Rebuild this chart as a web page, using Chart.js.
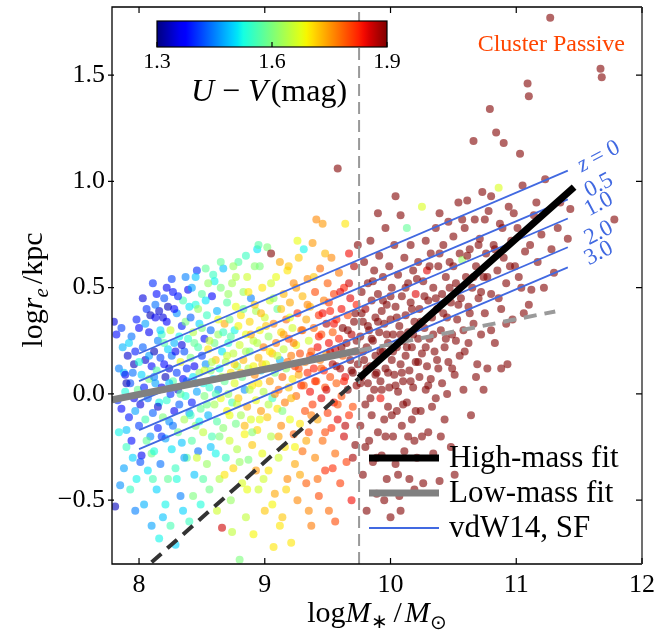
<!DOCTYPE html>
<html>
<head>
<meta charset="utf-8">
<script src="https://cdn.jsdelivr.net/npm/chart.js@4.4.1/dist/chart.umd.min.js"></script>
<style>
  html, body { margin: 0; padding: 0; background: #fff; }
  #wrap { width: 670px; height: 639px; }
</style>
</head>
<body>
<div id="wrap"><canvas id="chart" width="670" height="639"></canvas></div>
<script>
// axis ranges and ticks
const xMin = 7.785, xMax = 12;
const yMin = -0.80, yMax = 1.82;
const xTicks = [8, 9, 10, 11, 12];
const yTicks = [-0.5, 0, 0.5, 1.0, 1.5];
const colorMin = 1.3, colorMax = 1.9;
const colorTicks = [1.3, 1.6, 1.9];

// galaxies: [log M*, log re, U-V], grouped by mass
const galaxiesA = [
  [7.80,0.34,1.35],[7.81,-0.53,1.33],[7.83,-0.03,1.40],[7.84,0.12,1.45],[7.85,-0.43,1.46],[7.86,-0.07,1.37],
  [7.87,0.22,1.48],[7.88,0.10,1.49],[7.89,0.01,1.53],[7.89,0.09,1.36],[7.90,-0.17,1.49],[7.90,-0.25,1.55],
  [7.91,0.18,1.34],[7.92,-0.11,1.39],[7.93,0.05,1.42],[7.94,-0.22,1.38],[7.94,0.27,1.44],[7.95,-0.30,1.50],
  [7.96,0.14,1.33],[7.97,-0.08,1.47],[7.97,0.20,1.39],[7.98,-0.40,1.52],[7.99,0.02,1.58],[8.00,-0.15,1.41],
  [8.00,0.31,1.37],[8.01,-0.05,1.35],[8.02,-0.29,1.36],[8.02,0.09,1.50],[8.03,0.22,1.43],[8.04,-0.52,1.48],
  [8.05,-0.12,1.56],[8.05,0.16,1.34],[8.06,0.40,1.40],[8.07,-0.02,1.44],[8.07,-0.36,1.51],[8.08,0.29,1.36],
  [8.08,0.07,1.60],[8.09,-0.20,1.46],[8.10,0.13,1.38],[8.10,-0.62,1.47],
  [7.82,0.28,1.38],[7.84,-0.18,1.52],[7.86,0.31,1.41],[7.88,-0.35,1.47],[7.90,0.05,1.33],[7.92,0.24,1.50],
  [7.93,-0.45,1.55],[7.95,0.10,1.44],[7.96,-0.02,1.36],[7.98,0.35,1.39],[8.00,0.15,1.53],[8.01,-0.32,1.42],
  [8.03,0.45,1.35],[8.04,0.03,1.39],[8.06,-0.22,1.58],[8.08,0.18,1.47],[8.09,0.37,1.33],[8.05,0.33,1.47],
  [8.10,-0.28,1.59],[7.97,-0.55,1.45]
];
const galaxiesB = [
  [8.11,0.52,1.40],[8.11,-0.09,1.43],[8.12,0.20,1.33],[8.12,-0.27,1.53],[8.13,0.05,1.47],[8.13,0.36,1.36],
  [8.14,-0.45,1.50],[8.14,0.11,1.57],[8.15,-0.16,1.39],[8.15,0.25,1.45],[8.16,0.39,1.34],[8.16,-0.04,1.52],
  [8.17,0.17,1.41],[8.17,-0.33,1.44],[8.18,0.03,1.36],[8.18,0.28,1.55],[8.19,-0.58,1.49],[8.19,-0.11,1.60],
  [8.20,0.14,1.38],[8.20,0.45,1.42],[8.21,-0.21,1.47],[8.21,0.08,1.33],[8.22,0.34,1.37],[8.22,-0.03,1.54],
  [8.23,0.21,1.50],[8.23,-0.40,1.58],[8.24,0.12,1.35],[8.24,-0.13,1.46],[8.25,0.30,1.66],[8.25,0.00,1.40],
  [8.26,-0.26,1.51],[8.26,0.18,1.44],[8.27,0.48,1.38],[8.27,0.06,1.57],[8.28,-0.08,1.36],[8.28,0.24,1.48],
  [8.29,-0.71,1.50],[8.29,-0.35,1.55],[8.30,0.10,1.41],[8.30,0.38,1.46],[8.31,-0.18,1.59],[8.31,0.02,1.34],
  [8.32,0.27,1.52],[8.32,-0.05,1.43],[8.33,0.15,1.68],[8.33,-0.48,1.45],[8.34,0.32,1.39],[8.34,-0.23,1.49],
  [8.35,0.07,1.37],[8.35,0.44,1.56],[8.36,-0.12,1.63],[8.36,0.20,1.42],[8.37,-0.01,1.53],[8.37,0.55,1.45],
  [8.38,-0.30,1.58],[8.38,0.12,1.40],[8.39,0.49,1.36],[8.39,0.26,1.54],[8.40,-0.09,1.47],[8.40,-0.60,1.55],
  [8.11,-0.40,1.56],[8.12,0.08,1.45],[8.14,0.47,1.38],[8.15,-0.06,1.34],[8.17,0.30,1.50],[8.18,-0.20,1.40],
  [8.20,0.24,1.57],[8.21,-0.52,1.52],[8.23,0.41,1.33],[8.24,0.05,1.49],[8.26,0.54,1.41],[8.27,-0.15,1.44],
  [8.29,0.20,1.36],[8.30,-0.40,1.53],[8.31,0.46,1.39],[8.33,0.00,1.57],[8.34,0.23,1.35],[8.36,-0.30,1.47],
  [8.37,0.34,1.60],[8.38,0.06,1.43],[8.40,0.41,1.51],[8.22,0.50,1.36],[8.13,0.42,1.44],[8.19,0.36,1.35],
  [8.28,0.40,1.37],[8.35,-0.55,1.50],[8.16,-0.68,1.52],[8.25,-0.62,1.56]
];
const galaxiesC = [
  [8.41,0.17,1.60],[8.41,0.36,1.43],[8.42,-0.04,1.39],[8.42,-0.22,1.57],[8.43,0.08,1.51],[8.43,0.29,1.64],
  [8.44,-0.38,1.49],[8.44,0.13,1.36],[8.45,0.42,1.53],[8.45,-0.15,1.61],[8.46,0.58,1.40],[8.46,0.01,1.47],
  [8.47,0.22,1.56],[8.47,-0.27,1.44],[8.48,0.10,1.62],[8.48,0.33,1.50],[8.49,-0.07,1.58],[8.49,-0.52,1.53],
  [8.50,0.18,1.41],[8.50,0.47,1.57],[8.51,-0.18,1.65],[8.51,0.05,1.52],[8.52,0.26,1.38],[8.52,-0.01,1.60],
  [8.53,0.59,1.58],[8.53,0.14,1.46],[8.54,-0.33,1.62],[8.54,0.37,1.55],[8.55,-0.10,1.48],[8.55,0.21,1.70],
  [8.56,0.03,1.54],[8.56,-0.45,1.59],[8.57,0.30,1.44],[8.57,0.11,1.61],[8.58,0.46,1.37],[8.58,-0.20,1.56],
  [8.59,0.56,1.55],[8.59,0.07,1.50],[8.60,-0.05,1.63],[8.60,0.24,1.59],[8.61,-0.28,1.52],[8.61,0.16,1.72],
  [8.62,0.39,1.48],[8.62,-0.13,1.57],[8.63,0.02,1.45],[8.63,0.28,1.62],[8.64,-0.40,1.64],[8.64,0.12,1.53],
  [8.65,0.50,1.60],[8.65,-0.02,1.68],[8.66,-0.63,1.86],[8.66,0.20,1.51],[8.67,0.59,1.49],[8.67,-0.16,1.61],
  [8.68,0.06,1.58],[8.68,0.33,1.74],[8.69,-0.30,1.55],[8.69,0.15,1.63],[8.70,0.43,1.57],[8.70,-0.08,1.69],
  [8.41,-0.10,1.55],[8.42,0.50,1.47],[8.43,-0.48,1.60],[8.44,0.24,1.58],[8.45,0.05,1.45],[8.46,-0.30,1.66],
  [8.47,0.40,1.62],[8.48,-0.13,1.52],[8.50,0.31,1.60],[8.51,-0.40,1.57],[8.52,0.11,1.67],[8.53,0.44,1.51],
  [8.54,-0.05,1.59],[8.56,0.25,1.65],[8.57,-0.25,1.49],[8.58,0.15,1.64],[8.60,0.53,1.52],[8.61,0.00,1.56],
  [8.62,-0.55,1.66],[8.63,0.35,1.68],[8.64,-0.20,1.60],[8.66,0.08,1.64],[8.67,0.29,1.55],[8.68,-0.38,1.70],
  [8.70,0.18,1.66],[8.45,0.55,1.49],[8.55,0.52,1.62],[8.65,0.62,1.58]
];
const galaxiesD = [
  [8.71,0.24,1.54],[8.71,0.00,1.62],[8.72,-0.22,1.66],[8.72,0.35,1.60],[8.73,0.10,1.70],[8.73,-0.50,1.62],
  [8.74,0.52,1.63],[8.74,-0.04,1.56],[8.75,0.19,1.65],[8.75,-0.35,1.71],[8.76,0.30,1.52],[8.76,0.05,1.67],
  [8.77,-0.14,1.59],[8.77,0.41,1.68],[8.78,0.13,1.61],[8.78,-0.26,1.64],[8.79,0.62,1.57],[8.79,-0.02,1.72],
  [8.80,-0.78,1.60],[8.80,0.23,1.66],[8.81,-0.10,1.63],[8.81,0.37,1.70],[8.82,0.08,1.58],[8.82,-0.42,1.67],
  [8.83,0.48,1.62],[8.83,0.16,1.73],[8.84,-0.19,1.69],[8.84,0.02,1.46],[8.85,0.28,1.68],[8.85,-0.58,1.65],
  [8.86,0.55,1.66],[8.86,-0.06,1.74],[8.87,0.12,1.64],[8.87,-0.31,1.60],[8.88,0.34,1.71],[8.88,0.20,1.59],
  [8.89,-0.12,1.67],[8.89,0.45,1.45],[8.90,0.04,1.70],[8.90,-0.24,1.72],[8.91,0.25,1.65],[8.91,-0.66,1.69],
  [8.92,0.60,1.61],[8.92,0.09,1.76],[8.93,-0.03,1.68],[8.93,0.39,1.63],[8.94,0.68,1.51],[8.94,-0.17,1.71],
  [8.95,0.17,1.73],[8.95,-0.45,1.66],[8.96,0.60,1.60],[8.96,0.30,1.69],[8.97,-0.08,1.75],[8.97,0.11,1.50],
  [8.98,0.50,1.70],[8.98,-0.28,1.68],[8.99,0.22,1.77],[8.99,0.01,1.64],[9.00,-0.55,1.72],[9.00,0.36,1.66],
  [8.71,0.47,1.62],[8.72,-0.10,1.68],[8.73,0.27,1.57],[8.74,-0.65,1.65],[8.76,0.14,1.71],[8.77,0.55,1.64],
  [8.78,-0.05,1.66],[8.79,0.32,1.69],[8.80,-0.32,1.62],[8.81,0.10,1.72],[8.83,0.40,1.59],[8.84,-0.15,1.73],
  [8.85,0.20,1.63],[8.86,-0.45,1.68],[8.87,0.48,1.70],[8.88,0.02,1.65],[8.89,0.28,1.74],[8.90,-0.18,1.61],
  [8.91,0.13,1.69],[8.92,0.42,1.72],[8.93,-0.36,1.75],[8.94,0.24,1.64],[8.95,0.05,1.70],[8.96,-0.12,1.68],
  [8.97,0.38,1.73],[8.98,0.14,1.72],[8.99,-0.40,1.66],[8.75,0.60,1.62],[8.85,0.65,1.55],[8.95,0.70,1.57]
];
const galaxiesE = [
  [9.01,0.14,1.68],[9.02,0.69,1.60],[9.02,-0.11,1.72],[9.03,0.27,1.62],[9.03,-0.36,1.70],[9.04,0.06,1.75],
  [9.04,0.44,1.66],[9.05,0.66,1.90],[9.05,-0.20,1.64],[9.06,0.19,1.73],[9.06,-0.02,1.55],[9.07,0.33,1.76],
  [9.07,-0.72,1.70],[9.08,0.10,1.60],[9.08,-0.47,1.74],[9.09,0.55,1.68],[9.09,0.24,1.77],[9.10,-0.07,1.70],
  [9.10,0.40,1.58],[9.11,0.02,1.78],[9.11,-0.30,1.66],[9.12,0.62,1.74],[9.12,0.16,1.48],[9.13,-0.15,1.76],
  [9.13,0.29,1.71],[9.14,0.08,1.79],[9.14,-0.58,1.72],[9.15,0.47,1.73],[9.15,0.21,1.65],[9.16,-0.04,1.77],
  [9.16,-0.25,1.70],[9.17,0.35,1.78],[9.17,0.12,1.62],[9.18,0.58,1.70],[9.18,-0.40,1.76],[9.19,0.03,1.72],
  [9.19,0.26,1.80],[9.20,-0.12,1.68],[9.20,0.43,1.74],[9.21,-0.70,1.70],[9.21,0.18,1.77],[9.22,0.07,1.70],
  [9.22,0.31,1.66],[9.23,-0.19,1.79],[9.23,0.52,1.76],[9.24,0.13,1.81],[9.24,-0.33,1.74],[9.25,0.23,1.68],
  [9.25,-0.01,1.78],[9.26,0.38,1.82],[9.26,-0.50,1.76],[9.27,0.09,1.74],[9.27,0.64,1.72],[9.28,0.19,1.80],
  [9.28,-0.14,1.70],[9.29,0.30,1.77],[9.29,0.04,1.83],[9.30,-0.27,1.78],[9.30,0.46,1.73],[9.31,0.68,1.52],
  [9.01,0.32,1.72],[9.03,-0.05,1.64],[9.04,0.20,1.70],[9.06,-0.52,1.69],[9.07,0.45,1.62],[9.08,0.00,1.76],
  [9.10,0.18,1.66],[9.11,-0.20,1.74],[9.13,0.40,1.72],[9.14,-0.08,1.60],[9.15,0.28,1.75],[9.17,-0.45,1.71],
  [9.18,0.15,1.78],[9.20,0.36,1.68],[9.21,-0.02,1.73],[9.23,0.24,1.77],[9.24,-0.25,1.69],[9.25,0.50,1.75],
  [9.27,0.12,1.80],[9.28,-0.38,1.74],[9.30,0.30,1.78],[9.12,-0.62,1.70],[9.26,0.72,1.68],[9.05,0.52,1.66],
  [9.19,0.60,1.72]
];
const galaxiesF = [
  [9.32,0.15,1.77],[9.32,-0.08,1.80],[9.33,0.35,1.74],[9.33,-0.42,1.79],[9.34,0.10,1.82],[9.34,0.54,1.76],
  [9.35,-0.18,1.80],[9.35,0.25,1.66],[9.36,0.01,1.84],[9.36,0.41,1.73],[9.37,-0.62,1.77],[9.37,0.20,1.79],
  [9.38,0.71,1.75],[9.38,-0.05,1.81],[9.39,0.31,1.78],[9.39,0.12,1.83],[9.40,-0.30,1.76],[9.40,0.48,1.80],
  [9.41,0.82,1.76],[9.41,0.06,1.79],[9.42,0.22,1.84],[9.42,-0.12,1.74],[9.43,0.37,1.82],[9.43,-0.48,1.80],
  [9.44,0.16,1.77],[9.44,0.59,1.78],[9.45,-0.02,1.85],[9.45,0.28,1.80],[9.46,0.80,1.75],[9.46,-0.22,1.78],
  [9.47,0.11,1.83],[9.47,0.44,1.77],[9.48,0.03,1.80],[9.48,-0.36,1.82],[9.49,0.33,1.88],[9.49,0.19,1.75],
  [9.50,-0.09,1.81],[9.50,0.52,1.79],[9.51,0.24,1.84],[9.51,-0.55,1.78],[9.52,0.08,1.80],[9.52,0.39,1.83],
  [9.53,0.64,1.76],[9.53,-0.16,1.82],[9.54,0.14,1.88],[9.54,0.29,1.79],[9.55,-0.04,1.84],[9.55,0.47,1.81],
  [9.56,-0.28,1.78],[9.56,0.21,1.86],[9.57,0.35,1.82],[9.57,0.05,1.79],[9.58,1.06,1.95],[9.58,-0.12,1.85],
  [9.59,0.26,1.83],[9.59,0.57,1.77],[9.60,-0.42,1.81],[9.60,0.12,1.88],[9.61,0.40,1.84],[9.61,-0.01,1.80],
  [9.62,0.31,1.90],[9.62,0.18,1.79],[9.63,-0.20,1.86],[9.63,0.50,1.83],[9.64,0.80,1.70],[9.64,0.08,1.85],
  [9.65,0.24,1.89],[9.65,-0.32,1.81],[9.66,0.37,1.80],[9.66,0.02,1.92],[9.67,0.66,1.84],[9.67,-0.10,1.82],
  [9.68,0.16,1.93],[9.68,0.45,1.85],[9.69,-0.50,1.84],[9.69,0.28,1.87],[9.70,0.10,1.90],[9.70,-0.06,1.80],
  [9.71,0.34,1.95],[9.71,0.60,1.88],[9.72,0.20,1.84],[9.72,-0.24,1.92],[9.73,0.04,1.89],[9.73,0.42,1.83],
  [9.74,0.14,1.96],[9.74,0.70,1.91],
  [9.31,0.04,1.79],[9.33,-0.22,1.74],[9.34,0.42,1.76],[9.36,0.18,1.80],[9.37,-0.10,1.77],[9.39,0.55,1.72],
  [9.40,0.06,1.82],[9.42,-0.40,1.78],[9.43,0.27,1.83],[9.45,0.12,1.79],[9.46,0.38,1.84],[9.48,-0.18,1.80],
  [9.49,0.02,1.86],[9.51,0.43,1.81],[9.52,0.20,1.87],[9.54,-0.35,1.82],[9.55,0.33,1.84],[9.57,0.13,1.89],
  [9.58,-0.05,1.80],[9.60,0.48,1.85],[9.61,0.22,1.90],[9.63,0.06,1.83],[9.64,-0.15,1.87],[9.66,0.30,1.93],
  [9.67,0.52,1.86],[9.69,0.11,1.91],[9.70,-0.30,1.88],[9.72,0.38,1.95],[9.73,0.25,1.90],[9.35,-0.55,1.76],
  [9.56,-0.60,1.80],[9.48,0.66,1.73]
];
const galaxiesG = [
  [9.76,0.27,1.95],[9.76,-0.15,1.92],[9.77,0.48,1.98],[9.77,0.08,1.90],[9.78,-0.38,1.96],[9.78,0.34,1.93],
  [9.79,0.16,2.00],[9.79,0.62,1.95],[9.80,-0.05,1.97],[9.80,0.40,1.88],[9.81,0.22,1.99],[9.81,-0.55,1.95],
  [9.82,0.05,1.94],[9.82,0.52,1.97],[9.83,0.30,1.92],[9.83,-0.22,2.00],[9.84,0.13,1.96],[9.84,0.72,1.98],
  [9.85,-0.10,1.95],[9.85,0.44,2.01],[9.86,0.25,1.93],[9.86,-0.32,1.97],[9.87,0.02,1.99],[9.87,0.58,1.94],
  [9.88,0.36,1.96],[9.88,0.18,2.02],[9.89,-0.47,1.98],[9.89,0.10,1.95],[9.90,0.47,1.99],[9.90,-0.18,1.96],
  [9.91,0.29,2.00],[9.91,0.65,1.97],[9.92,0.06,1.98],[9.92,-0.02,1.84],[9.93,0.39,1.96],[9.93,-0.29,2.01],
  [9.94,0.20,1.97],[9.94,0.55,1.99],[9.95,-0.12,1.96],[9.95,0.33,1.95],[9.96,0.12,2.00],[9.96,0.78,1.98],
  [9.97,-0.40,1.99],[9.97,0.42,1.97],[9.98,0.24,2.02],[9.98,-0.06,1.95],[9.99,0.60,2.00],[9.99,0.03,1.98],
  [10.00,0.35,1.97],[10.00,-0.58,1.99],[10.01,0.16,1.96],[10.01,0.50,2.01],[10.02,-0.20,1.98],[10.02,0.28,1.99],
  [10.03,0.70,1.96],[10.03,0.09,2.00],[10.04,-0.33,1.97],[10.04,0.41,1.98],[10.05,0.22,2.02],[10.05,-0.08,1.99],
  [10.06,0.56,1.97],[10.06,0.01,2.00],[10.07,0.32,1.98],[10.07,-0.48,2.01],[10.08,0.14,1.96],[10.08,0.84,1.99],
  [10.09,0.46,2.00],[10.09,-0.15,1.97],[10.10,0.25,2.01],[10.10,0.06,1.98],[10.11,0.64,1.99],[10.11,-0.27,2.00],
  [10.12,0.37,1.97],[10.12,0.18,2.02],[10.13,0.78,1.58],[10.13,-0.04,1.99],[10.14,0.52,2.00],[10.14,0.29,1.98],
  [10.15,-0.40,2.01],[10.15,0.11,1.99],[10.16,0.43,1.97],[10.16,0.70,2.00],[10.17,-0.12,1.98],[10.17,0.22,2.01],
  [10.18,0.03,1.99],[10.18,0.58,1.97],[10.19,0.34,2.02],[10.19,-0.22,1.98],[10.20,0.47,1.85],[10.20,0.15,2.00],
  [9.76,0.05,1.97],[9.77,0.38,1.99],[9.78,0.20,2.00],[9.80,-0.25,1.98],[9.81,0.12,1.96],[9.82,0.32,2.00],
  [9.84,-0.02,1.99],[9.85,0.26,1.97],[9.86,0.53,2.00],[9.88,0.09,1.98],[9.89,-0.30,2.01],[9.90,0.34,1.99],
  [9.92,0.20,2.00],[9.93,0.02,1.97],[9.94,0.44,1.99],[9.96,-0.20,2.00],[9.97,0.28,1.98],[9.98,0.10,2.01],
  [10.00,0.46,1.99],[10.01,-0.10,2.00],[10.02,0.20,1.97],[10.04,0.04,1.99],[10.05,0.36,2.00],[10.06,-0.38,1.98],
  [10.08,0.28,2.01],[10.09,0.10,1.99],[10.10,-0.05,2.00],[10.12,0.50,1.98],[10.13,0.22,2.00],[10.14,-0.20,1.99],
  [10.16,0.06,2.01],[10.17,0.40,1.98],[10.18,0.28,2.00],[10.20,-0.08,1.99],[9.95,-0.50,1.99],[10.08,-0.55,2.00],
  [10.19,-0.45,1.98],[10.04,0.93,1.99],[9.90,0.85,1.98]
];
const galaxiesH = [
  [10.21,-0.30,1.99],[10.22,0.26,2.01],[10.22,0.62,1.98],[10.23,0.08,2.00],[10.23,0.40,1.97],[10.24,-0.08,2.02],
  [10.25,0.88,1.67],[10.25,0.19,1.99],[10.26,0.53,2.00],[10.26,-0.42,1.98],[10.27,0.31,2.01],[10.28,0.02,1.99],
  [10.28,0.72,2.00],[10.29,0.58,1.85],[10.29,0.13,1.98],[10.30,0.44,2.02],[10.30,-0.18,1.99],[10.31,0.26,2.00],
  [10.32,0.66,1.98],[10.32,0.07,2.01],[10.33,0.36,1.99],[10.34,-0.28,2.00],[10.34,0.50,1.98],[10.35,0.20,2.02],
  [10.36,0.78,1.99],[10.36,-0.02,2.00],[10.37,0.40,1.98],[10.38,0.12,2.01],[10.38,0.60,1.99],[10.39,0.85,2.00],
  [10.39,-0.41,1.98],[10.40,0.30,2.00],[10.41,0.47,2.01],[10.41,0.05,1.99],[10.42,0.70,1.98],[10.43,0.22,2.00],
  [10.43,-0.12,2.02],[10.44,0.55,1.99],[10.45,0.36,2.00],[10.46,0.81,1.98],[10.46,0.15,2.01],[10.47,0.62,1.99],
  [10.48,-0.25,2.00],[10.48,0.43,1.98],[10.49,0.28,2.01],[10.50,0.74,1.99],[10.51,-0.38,2.00],[10.51,0.09,1.98],
  [10.52,0.52,2.00],[10.53,0.35,1.99],[10.54,0.90,2.01],[10.55,0.18,1.98],[10.55,0.66,2.00],[10.56,0.45,1.99],
  [10.57,0.63,1.62],[10.58,0.02,2.00],[10.58,0.30,1.98],[10.59,0.78,2.01],[10.60,0.55,1.99],[10.61,0.91,2.00],
  [10.62,0.24,1.98],[10.62,0.41,2.00],[10.63,0.68,1.99],[10.64,-0.10,2.01],[10.65,0.50,1.98],[10.66,1.19,2.00],
  [10.66,0.33,1.99],[10.67,0.82,2.00],[10.68,0.60,1.98],[10.69,0.14,2.01],[10.70,0.45,1.99],
  [10.21,0.54,2.00],[10.22,0.15,1.98],[10.24,0.34,2.01],[10.25,-0.20,1.99],[10.27,0.46,2.00],[10.28,0.22,1.98],
  [10.30,0.04,2.00],[10.31,0.60,1.99],[10.33,-0.06,2.01],[10.34,0.28,1.98],[10.36,0.45,2.00],[10.37,0.16,1.99],
  [10.39,0.66,2.00],[10.40,-0.20,1.98],[10.42,0.38,2.01],[10.44,0.26,1.99],[10.45,0.00,2.00],[10.47,0.50,1.98],
  [10.49,0.12,2.00],[10.50,0.60,1.99],[10.52,0.25,2.00],[10.54,0.42,1.99],[10.57,0.82,2.01],[10.59,0.20,1.98],
  [10.61,0.65,2.00],[10.63,0.38,1.99],[10.66,0.55,2.00],[10.68,0.08,1.98],[10.70,0.70,2.01]
];
const galaxiesI = [
  [10.71,0.73,2.00],[10.72,0.28,1.98],[10.73,0.95,1.99],[10.74,0.55,2.01],[10.75,0.38,1.99],[10.76,0.66,2.00],
  [10.77,0.12,1.98],[10.78,0.86,2.00],[10.79,1.34,1.99],[10.80,0.93,2.01],[10.80,0.47,1.98],[10.82,0.70,2.00],
  [10.83,0.24,1.99],[10.84,1.23,2.00],[10.85,0.58,1.98],[10.86,0.97,1.67],[10.87,0.80,2.00],[10.88,0.40,1.99],
  [10.90,1.18,2.00],[10.90,0.64,2.01],[10.92,0.52,1.98],[10.93,0.14,2.00],[10.94,0.88,1.99],[10.96,0.72,2.00],
  [10.97,0.35,1.98],[10.99,0.60,2.01],[11.01,0.78,1.99],[11.03,1.13,2.00],[11.04,0.50,1.98],[11.05,0.98,2.00],
  [11.07,0.67,1.99],[11.09,1.46,2.00],[11.10,1.40,1.98],[11.10,0.42,2.01],[11.12,0.49,1.99],[11.14,0.84,2.00],
  [11.17,0.62,1.98],[11.20,0.75,2.00],[11.23,1.01,1.99],[11.27,1.77,2.00],[11.30,0.57,1.98],[11.35,0.90,2.00],
  [11.41,0.73,1.99],[11.43,0.87,2.00],[11.67,1.53,1.98],[11.68,1.49,2.00],[11.78,0.82,1.99],
  [10.72,0.48,1.99],[10.75,0.82,2.00],[10.77,0.55,1.98],[10.80,0.30,2.00],[10.83,0.68,1.99],[10.86,0.45,2.00],
  [10.89,0.78,1.98],[10.92,0.33,2.00],[10.95,0.60,1.99],[10.98,0.85,2.00],[11.02,0.55,1.98],[11.06,0.38,2.00],
  [11.11,0.70,1.99],[11.16,0.90,2.00],[11.22,0.50,1.98],[11.28,0.68,2.00],[11.33,0.78,1.99],[10.74,0.02,2.00],
  [10.88,0.12,1.98]
];

// vdW14 star-forming relations, end points
const vdwLabels = ['0', '0.5', '1.0', '2.0', '3.0'];
const vdwMass = [8.0, 11.41];
const vdwStart = [0.19, 0.06, -0.035, -0.17, -0.26];
const vdwEnd = [1.05, 0.915, 0.825, 0.69, 0.595];

// fits
const massCut = 9.75;
const highFitMass = [9.75, 11.46], highFitSize = [0.074, 0.973];
const highExtMass = [8.10, 9.75], highExtSize = [-0.792, 0.074];
const lowFitMass = [7.785, 9.75], lowFitSize = [-0.028, 0.204];
const lowExtMass = [9.75, 11.31], lowExtSize = [0.204, 0.388];

const SERIF = "'Liberation Serif', 'Times New Roman', serif";
const BLUE = '#4169E1';

function jet(v, alpha) {
  let t = (v - colorMin) / (colorMax - colorMin);
  t = Math.max(0, Math.min(1, t));
  const seg = pts => {
    for (let i = 1; i < pts.length; i++) {
      if (t <= pts[i][0]) {
        const f = (t - pts[i - 1][0]) / (pts[i][0] - pts[i - 1][0]);
        return pts[i - 1][1] + f * (pts[i][1] - pts[i - 1][1]);
      }
    }
    return pts[pts.length - 1][1];
  };
  const r = seg([[0, 0], [0.35, 0], [0.66, 1], [0.89, 1], [1, 0.5]]);
  const g = seg([[0, 0], [0.125, 0], [0.375, 1], [0.64, 1], [0.91, 0], [1, 0]]);
  const b = seg([[0, 0.5], [0.11, 1], [0.34, 1], [0.65, 0], [1, 0]]);
  return `rgba(${Math.round(r * 255)},${Math.round(g * 255)},${Math.round(b * 255)},${alpha})`;
}

const galaxies = [].concat(galaxiesA, galaxiesB, galaxiesC, galaxiesD, galaxiesE,
  galaxiesF, galaxiesG, galaxiesH, galaxiesI);

const pairs = (xs, ys) => xs.map((x, i) => ({ x: x, y: ys[i] }));

const datasets = [];

datasets.push({
  label: 'High-mass fit', data: pairs(highFitMass, highFitSize), showLine: true,
  borderColor: '#000', borderWidth: 7, pointRadius: 0, order: 0
});
datasets.push({
  label: 'high ext', data: pairs(highExtMass, highExtSize), showLine: true,
  borderColor: '#333', borderWidth: 4, borderDash: [13, 8], pointRadius: 0, order: 0
});
datasets.push({
  label: 'Low-mass fit', data: pairs(lowFitMass, lowFitSize), showLine: true,
  borderColor: '#808080', borderWidth: 7, pointRadius: 0, order: 0
});
datasets.push({
  label: 'low ext', data: pairs(lowExtMass, lowExtSize), showLine: true,
  borderColor: '#9a9a9a', borderWidth: 4, borderDash: [13, 8], pointRadius: 0, order: 0
});
vdwLabels.forEach((z, i) => {
  datasets.push({
    label: i === 0 ? 'vdW14, SF' : 'vdW14 z=' + z,
    data: pairs(vdwMass, [vdwStart[i], vdwEnd[i]]), showLine: true,
    borderColor: BLUE, borderWidth: 1.8, pointRadius: 0, order: 1
  });
});
datasets.push({
  label: 'cut', data: pairs([massCut, massCut], [yMin, yMax]), showLine: true,
  borderColor: '#999', borderWidth: 2, borderDash: [12, 6], pointRadius: 0, order: 2
});
datasets.push({
  label: 'Cluster Passive', data: galaxies.map(g => ({ x: g[0], y: g[1] })),
  backgroundColor: galaxies.map(g => jet(g[2], 0.6)),
  pointRadius: 4, borderWidth: 0, order: 5
});

function drawRuns(ctx, runs, x, y, align) {
  let total = 0;
  runs.forEach(r => { ctx.font = r.font; total += ctx.measureText(r.t).width + (r.gap || 0); });
  let cx = align === 'center' ? x - total / 2 : x;
  ctx.textAlign = 'left';
  runs.forEach(r => {
    ctx.font = r.font;
    ctx.fillText(r.t, cx, y + (r.dy || 0));
    cx += ctx.measureText(r.t).width + (r.gap || 0);
  });
}

const overlay = {
  id: 'overlay',
  afterDraw(chart) {
    const ctx = chart.ctx;
    const a = chart.chartArea;
    const xs = chart.scales.x, ys = chart.scales.y;
    ctx.save();

    // frame
    ctx.lineWidth = 1.3;
    ctx.strokeStyle = '#000';
    ctx.beginPath();
    ctx.moveTo(a.right, a.top); ctx.lineTo(a.left, a.top);
    ctx.lineTo(a.left, a.bottom); ctx.lineTo(a.right, a.bottom);
    ctx.stroke();
    ctx.strokeStyle = '#707070';
    ctx.lineWidth = 2;
    ctx.beginPath(); ctx.moveTo(a.right, a.top); ctx.lineTo(a.right, a.bottom); ctx.stroke();

    // ticks
    ctx.strokeStyle = '#000';
    ctx.lineWidth = 1.2;
    xTicks.forEach(v => {
      const px = xs.getPixelForValue(v);
      ctx.beginPath();
      ctx.moveTo(px, a.bottom); ctx.lineTo(px, a.bottom - 6);
      ctx.moveTo(px, a.top); ctx.lineTo(px, a.top + 6);
      ctx.stroke();
    });
    yTicks.forEach(v => {
      const py = ys.getPixelForValue(v);
      ctx.beginPath();
      ctx.moveTo(a.left - 4, py); ctx.lineTo(a.left + 2, py);
      ctx.moveTo(a.right, py); ctx.lineTo(a.right - 6, py);
      ctx.stroke();
    });

    ctx.fillStyle = '#000';
    ctx.textBaseline = 'alphabetic';

    // x title
    drawRuns(ctx, [
      { t: 'log', font: `30px ${SERIF}` },
      { t: 'M', font: `italic 30px ${SERIF}` },
      { t: '\u2217', font: `20px ${SERIF}`, dy: 6, gap: 6 },
      { t: '/', font: `30px ${SERIF}`, gap: 3 },
      { t: 'M', font: `italic 30px ${SERIF}` },
      { t: '\u2299', font: `20px ${SERIF}`, dy: 7 }
    ], 377, 622, 'center');

    // y title
    ctx.save();
    ctx.translate(42, 290);
    ctx.rotate(-Math.PI / 2);
    drawRuns(ctx, [
      { t: 'log', font: `30px ${SERIF}` },
      { t: 'r', font: `italic 30px ${SERIF}` },
      { t: 'e', font: `italic 21px ${SERIF}`, dy: 6, gap: 4 },
      { t: '/kpc', font: `30px ${SERIF}` }
    ], 0, 0, 'center');
    ctx.restore();

    // colorbar
    const cbL = 157, cbR = 387, cbT = 21, cbB = 47;
    const grad = ctx.createLinearGradient(cbL, 0, cbR, 0);
    for (let i = 0; i <= 40; i++) {
      const v = colorMin + (colorMax - colorMin) * i / 40;
      grad.addColorStop(i / 40, jet(v, 1));
    }
    ctx.fillStyle = grad;
    ctx.fillRect(cbL, cbT, cbR - cbL, cbB - cbT);
    ctx.strokeStyle = '#000';
    ctx.lineWidth = 1.2;
    ctx.strokeRect(cbL, cbT, cbR - cbL, cbB - cbT);
    ctx.fillStyle = '#000';
    ctx.font = `22px ${SERIF}`;
    ctx.textAlign = 'center';
    colorTicks.forEach(v => {
      const px = cbL + (v - colorMin) / (colorMax - colorMin) * (cbR - cbL);
      ctx.beginPath(); ctx.moveTo(px, cbB); ctx.lineTo(px, cbB - 5); ctx.stroke();
      ctx.fillText(v.toFixed(1), px, 68);
    });
    drawRuns(ctx, [
      { t: 'U', font: `italic 32px ${SERIF}` },
      { t: ' \u2212 ', font: `32px ${SERIF}` },
      { t: 'V', font: `italic 32px ${SERIF}`, gap: 3 },
      { t: '(mag)', font: `32px ${SERIF}` }
    ], 269, 101, 'center');

    // sample label
    ctx.fillStyle = '#FF4500';
    ctx.font = `24px ${SERIF}`;
    ctx.textAlign = 'right';
    ctx.fillText('Cluster Passive', 625, 51);

    // redshift labels
    ctx.fillStyle = BLUE;
    vdwLabels.forEach((z, i) => {
      const px = xs.getPixelForValue(vdwMass[1]);
      const py = ys.getPixelForValue(vdwEnd[i]);
      ctx.save();
      ctx.translate(px + 31, py - 14);
      ctx.rotate(-28 * Math.PI / 180);
      ctx.textBaseline = 'middle';
      if (i === 0) {
        drawRuns(ctx, [
          { t: 'z', font: `italic 23px ${SERIF}` },
          { t: ' = 0', font: `23px ${SERIF}` }
        ], 0, 0, 'center');
      } else {
        drawRuns(ctx, [{ t: z, font: `23px ${SERIF}` }], 0, 0, 'center');
      }
      ctx.restore();
    });

    // legend
    const entries = ['High-mass fit', 'Low-mass fit', 'vdW14, SF'];
    ctx.textBaseline = 'middle';
    entries.forEach((name, i) => {
      const ds = chart.data.datasets.find(d => d.label === name);
      const ly = 458 + i * 35;
      ctx.strokeStyle = ds.borderColor;
      ctx.lineWidth = ds.borderWidth;
      ctx.setLineDash([]);
      ctx.beginPath(); ctx.moveTo(369, ly); ctx.lineTo(439, ly); ctx.stroke();
      ctx.fillStyle = '#000';
      ctx.font = `31px ${SERIF}`;
      ctx.textAlign = 'left';
      ctx.fillText(name, 449, ly + 1);
    });

    ctx.restore();
  }
};

new Chart(document.getElementById('chart'), {
  type: 'scatter',
  data: { datasets: datasets },
  options: {
    responsive: false,
    animation: false,
    devicePixelRatio: 1,
    layout: { padding: { top: 7, right: 28, left: 0, bottom: 0 } },
    plugins: { legend: { display: false }, tooltip: { enabled: false } },
    scales: {
      x: {
        type: 'linear', min: xMin, max: xMax,
        grid: { display: false, drawTicks: false },
        border: { display: false },
        ticks: { font: { family: SERIF, size: 26 }, color: '#000', padding: 6, maxRotation: 0,
                 callback: v => String(v) },
        afterBuildTicks: s => { s.ticks = xTicks.map(v => ({ value: v })); },
        afterFit: s => { s.height = 75; s.paddingLeft = 0; s.paddingRight = 0; }
      },
      y: {
        type: 'linear', min: yMin, max: yMax,
        grid: { display: false, drawTicks: false },
        border: { display: false },
        ticks: { font: { family: SERIF, size: 26 }, color: '#000', padding: 7,
                 callback: v => v < 0 ? '\u2212' + Math.abs(v).toFixed(1) : v.toFixed(1) },
        afterBuildTicks: s => { s.ticks = yTicks.map(v => ({ value: v })); },
        afterFit: s => { s.width = 112; s.paddingTop = 0; s.paddingBottom = 0; }
      }
    }
  },
  plugins: [overlay]
});
</script>
</body>
</html>
